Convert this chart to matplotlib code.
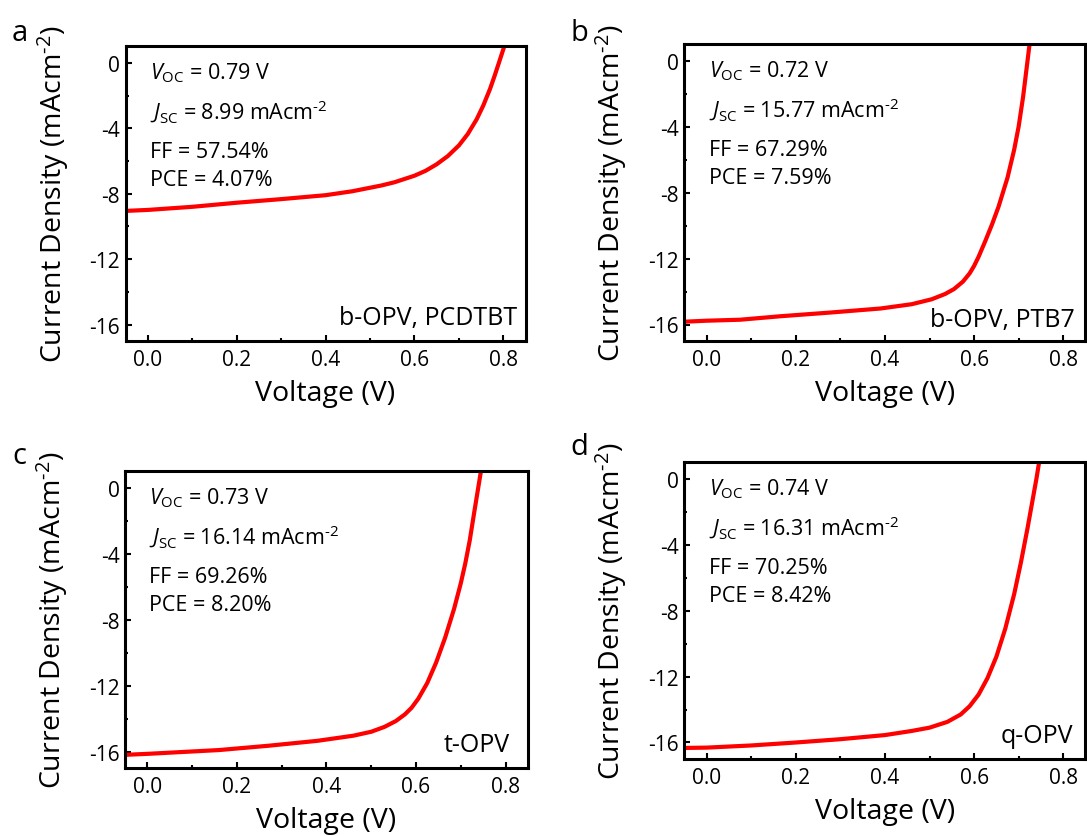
import numpy as np
import matplotlib
matplotlib.use('Agg')
import matplotlib.pyplot as plt
from matplotlib.ticker import MultipleLocator, FormatStrFormatter

# ================================
# STYLE
# ================================

plt.rcParams['font.family'] = ['Open Sans', 'DejaVu Sans']
plt.rcParams['mathtext.fontset'] = 'custom'
plt.rcParams['mathtext.rm'] = 'Open Sans'
plt.rcParams['mathtext.it'] = 'Open Sans:italic'
plt.rcParams['mathtext.default'] = 'rm'
plt.rcParams['axes.unicode_minus'] = False

# ================================
# J-V DATA (V in volts, J in mA/cm2)
# ================================

v_a = [-0.05, 0.0, 0.1, 0.2, 0.3, 0.4, 0.46, 0.525, 0.555, 0.6, 0.625,
       0.65, 0.675, 0.7, 0.72, 0.74, 0.755, 0.77, 0.78, 0.79, 0.802]
j_a = [-9.05, -8.99, -8.8, -8.55, -8.33, -8.09, -7.85, -7.5, -7.3, -6.9,
       -6.6, -6.2, -5.7, -5.05, -4.35, -3.45, -2.6, -1.6, -0.82, 0.0, 1.0]

v_b = [-0.05, 0.0, 0.075, 0.165, 0.275, 0.39, 0.46, 0.505, 0.535, 0.555,
       0.575, 0.59, 0.6, 0.61, 0.625, 0.64, 0.655, 0.675, 0.69, 0.7, 0.71,
       0.72, 0.725]
j_b = [-15.83, -15.77, -15.71, -15.5, -15.28, -15.03, -14.77, -14.47,
       -14.15, -13.85, -13.4, -12.9, -12.45, -11.9, -10.95, -9.95, -8.85,
       -7.1, -5.4, -4.0, -2.2, 0.0, 1.1]

v_c = [-0.05, 0.0, 0.16, 0.27, 0.38, 0.46, 0.5, 0.53, 0.555, 0.575, 0.59,
       0.605, 0.625, 0.645, 0.665, 0.685, 0.7, 0.71, 0.72, 0.73, 0.739,
       0.745]
j_c = [-16.2, -16.14, -15.91, -15.65, -15.35, -15.04, -14.8, -14.5, -14.15,
       -13.75, -13.35, -12.8, -11.85, -10.6, -9.1, -7.35, -5.8, -4.6, -3.2,
       -1.5, 0.0, 1.0]

v_d = [-0.05, 0.0, 0.1, 0.2, 0.3, 0.4, 0.46, 0.5, 0.54, 0.57, 0.59, 0.61,
       0.63, 0.65, 0.67, 0.69, 0.705, 0.72, 0.73, 0.74, 0.746]
j_d = [-16.33, -16.31, -16.18, -16.0, -15.8, -15.55, -15.3, -15.1, -14.75,
       -14.3, -13.8, -13.1, -12.1, -10.8, -9.1, -7.0, -5.1, -3.0, -1.5,
       0.0, 1.0]

# device parameters
voc = ["0.79", "0.72", "0.73", "0.74"]
jsc = ["8.99", "15.77", "16.14", "16.31"]
ff = ["57.54", "67.29", "69.26", "70.25"]
pce = ["4.07", "7.59", "8.20", "8.42"]
devices = ["b-OPV, PCDTBT", "b-OPV, PTB7", "t-OPV", "q-OPV"]
letters = ["a", "b", "c", "d"]

voltages = [v_a, v_b, v_c, v_d]
currents = [j_a, j_b, j_c, j_d]

# ================================
# LAYOUT (figure fractions)
# ================================

boxes = [
    [0.1155, 0.5914, 0.3680, 0.3519],
    [0.6297, 0.5914, 0.3689, 0.3548],
    [0.1150, 0.0812, 0.3707, 0.3548],
    [0.6297, 0.0920, 0.3689, 0.3548],
]
letter_pos = [(0.011, 0.951), (0.525, 0.951), (0.011, 0.4456), (0.525, 0.4564)]
device_x = [0.978, 0.974, 0.955, 0.970]
device_y = [0.058, 0.052, 0.058, 0.057]

# ================================
# PLOT
# ================================

fig = plt.figure(figsize=(10.87, 8.37), dpi=100)

for i in range(4):
    ax = fig.add_axes(boxes[i])
    ax.plot(voltages[i], currents[i], color='#ff0000', lw=3.0,
            solid_joinstyle='round', solid_capstyle='butt')

    ax.set_xlim(-0.05, 0.85)
    ax.set_ylim(-17, 1)
    ax.xaxis.set_major_locator(MultipleLocator(0.2))
    ax.xaxis.set_minor_locator(MultipleLocator(0.1))
    ax.yaxis.set_major_locator(MultipleLocator(4))
    ax.yaxis.set_minor_locator(MultipleLocator(2))
    ax.xaxis.set_major_formatter(FormatStrFormatter('%.1f'))

    ax.tick_params(which='both', direction='in', top=False, right=False,
                   width=1.5, colors='black')
    ax.tick_params(which='major', length=4.5, labelsize=15)
    ax.tick_params(which='minor', length=2.5)
    ax.tick_params(axis='x', pad=6)
    ax.tick_params(axis='y', pad=4)
    for sp in ax.spines.values():
        sp.set_linewidth(2.2)

    ax.set_xlabel("Voltage (V)", fontsize=20.5)
    ax.set_ylabel(r"Current Density (mAcm$^{\text{-2}}$)", fontsize=20.5)
    ax.xaxis.set_label_coords(0.5, -0.128)
    ax.yaxis.set_label_coords(-0.1375, 0.5)

    # device parameters
    tx = 0.06
    ax.text(tx, 0.891, r"$\mathit{V}_{\mathrm{OC}}$ = " + voc[i] + " V",
            transform=ax.transAxes, fontsize=15.5, va='baseline', ha='left')
    ax.text(tx, 0.755, r"$\mathit{J}_{\mathrm{SC}}$ = " + jsc[i]
            + r" mAcm$^{\text{-2}}$",
            transform=ax.transAxes, fontsize=15.5, va='baseline', ha='left')
    ax.text(tx, 0.626, "FF = " + ff[i] + "%",
            transform=ax.transAxes, fontsize=15.5, va='baseline', ha='left')
    ax.text(tx, 0.531, "PCE = " + pce[i] + "%",
            transform=ax.transAxes, fontsize=15.5, va='baseline', ha='left')

    ax.text(device_x[i], device_y[i], devices[i], transform=ax.transAxes,
            fontsize=18, va='baseline', ha='right')

    # panel letter
    fig.text(letter_pos[i][0], letter_pos[i][1], letters[i], fontsize=21,
             va='baseline', ha='left')

fig.savefig("out.png", dpi=100)
